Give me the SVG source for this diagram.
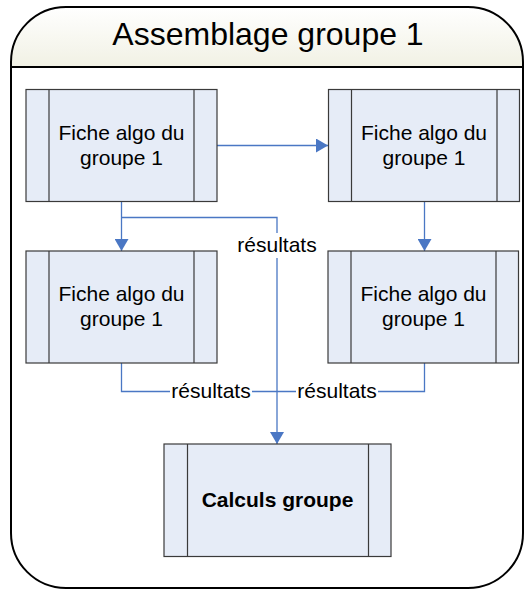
<svg xmlns="http://www.w3.org/2000/svg" width="524" height="590" viewBox="0 0 524 590">
<style>
.node rect{fill:#E6ECF7;stroke:#3a3a3a;stroke-width:1.2}
.node line{stroke:#3a3a3a;stroke-width:1.2}
.t{font-family:"Liberation Sans",Arial,sans-serif;font-size:21px;fill:#000;text-anchor:middle}
.b{font-weight:bold}
.c{fill:none;stroke:#4A77C4;stroke-width:1.3}
.lbl{font-family:"Liberation Sans",Arial,sans-serif;font-size:21px;fill:#000;text-anchor:middle}
</style>
<defs>
<linearGradient id="hg" x1="0" y1="0" x2="0" y2="1">
<stop offset="0" stop-color="#FFFFFF"/>
<stop offset="1" stop-color="#F1F1E4"/>
</linearGradient>
<marker id="ah" viewBox="0 0 12 14" refX="12" refY="7" markerWidth="12" markerHeight="14" markerUnits="userSpaceOnUse" orient="auto">
<path d="M0,0 L12,7 L0,14 Z" fill="#4A77C4"/>
</marker>
</defs>
<g id="container">
<path d="M11,67 L11,62 A55,55 0 0 1 66,7 L468,7 A55,55 0 0 1 523,62 L523,67 Z" fill="url(#hg)"/>
<path d="M66,7 L468,7 A55,55 0 0 1 523,62 L523,533 A55,55 0 0 1 468,588 L66,588 A55,55 0 0 1 11,533 L11,62 A55,55 0 0 1 66,7 Z" fill="none" stroke="#000" stroke-width="2"/>
<line x1="11" y1="67" x2="523" y2="67" stroke="#000" stroke-width="2"/>
<text x="268" y="45" font-family="'Liberation Sans',Arial,sans-serif" font-size="32" text-anchor="middle" fill="#000">Assemblage groupe 1</text>
</g>
<g id="connectors">
<path class="c" d="M217,145.5 L328,145.5" marker-end="url(#ah)"/>
<path class="c" d="M121.5,201 L121.5,251" marker-end="url(#ah)"/>
<path class="c" d="M424.5,201 L424.5,251" marker-end="url(#ah)"/>
<path class="c" d="M121.5,217.5 L277,217.5 L277,444" marker-end="url(#ah)"/>
<path class="c" d="M121.5,363 L121.5,391.5 L424.5,391.5 L424.5,363"/>
<rect x="235" y="233" width="84" height="25" fill="#fff"/>
<text class="lbl" x="277" y="252">résultats</text>
<rect x="170" y="380" width="82" height="22" fill="#fff"/>
<text class="lbl" x="211" y="398">résultats</text>
<rect x="296" y="380" width="82" height="22" fill="#fff"/>
<text class="lbl" x="337" y="398">résultats</text>
</g>
<g id="n1" class="node">
<rect x="26" y="89.5" width="191" height="112"/>
<line x1="49" y1="89.5" x2="49" y2="201.5"/>
<line x1="194" y1="89.5" x2="194" y2="201.5"/>
<text class="t" x="121.5" y="139.5">Fiche algo du</text>
<text class="t" x="121.5" y="164.5">groupe 1</text>
</g>
<g id="n2" class="node">
<rect x="328.5" y="89.5" width="191" height="112"/>
<line x1="351.5" y1="89.5" x2="351.5" y2="201.5"/>
<line x1="497" y1="89.5" x2="497" y2="201.5"/>
<text class="t" x="424" y="139.5">Fiche algo du</text>
<text class="t" x="424" y="164.5">groupe 1</text>
</g>
<g id="n3" class="node">
<rect x="26" y="251" width="191" height="112"/>
<line x1="49" y1="251" x2="49" y2="363"/>
<line x1="194" y1="251" x2="194" y2="363"/>
<text class="t" x="121.5" y="300.5">Fiche algo du</text>
<text class="t" x="121.5" y="325.5">groupe 1</text>
</g>
<g id="n4" class="node">
<rect x="328" y="251" width="190.5" height="112"/>
<line x1="351" y1="251" x2="351" y2="363"/>
<line x1="496" y1="251" x2="496" y2="363"/>
<text class="t" x="423.5" y="300.5">Fiche algo du</text>
<text class="t" x="423.5" y="325.5">groupe 1</text>
</g>
<g id="n5" class="node">
<rect x="164" y="444" width="227" height="112.5"/>
<line x1="187.5" y1="444" x2="187.5" y2="556.5"/>
<line x1="368.5" y1="444" x2="368.5" y2="556.5"/>
<text class="t b" x="277.5" y="507">Calculs groupe</text>
</g>
</svg>
